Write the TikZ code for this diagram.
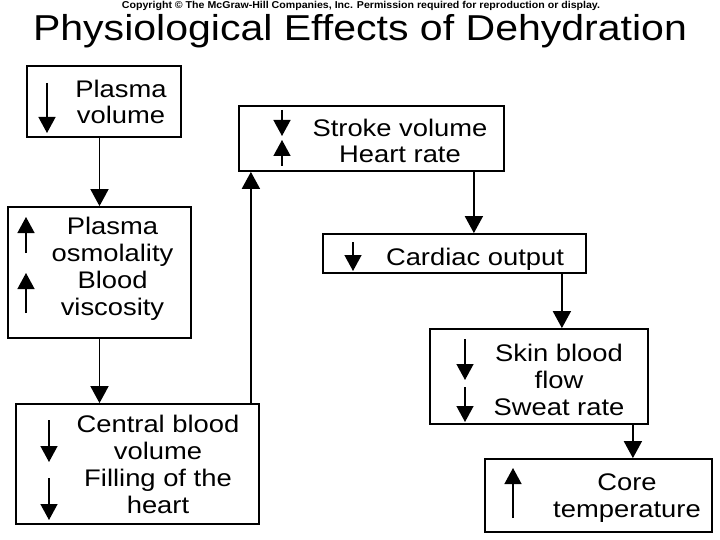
\documentclass[tikz,border=0pt]{standalone}
\usepackage{fontspec}
\setmainfont{Liberation Sans}[FakeStretch=1.14]
\newfontfamily\copyfont{Liberation Sans}[FakeStretch=1.06]
\usepackage{tikz}
\usetikzlibrary{arrows.meta}

\begin{document}
\begin{tikzpicture}[
    x=1pt, y=-1pt,
    box/.style n args={2}{draw, line width=1.8pt, minimum width=#1,
                minimum height=#2, inner sep=0pt},
    txt/.style={anchor=base, align=center, inner sep=0pt,
                font=\fontsize{24}{26.7}\selectfont},
    conn/.style={line width=1.8pt, -{Triangle[length=17pt, width=18pt]}},
    ind/.style={line width=1.4pt, -{Triangle[length=16pt, width=17pt]}},
]
\useasboundingbox (0,0) rectangle (720,540);

% ── Heading ──────────────────────────────────────────────────
\node[anchor=base, inner sep=0pt, font=\copyfont\bfseries\fontsize{10}{10}\selectfont] (copy) at (361,9)
    {Copyright © The McGraw-Hill Companies, Inc. Permission required for reproduction or display.};
\node[anchor=base, inner sep=0pt, font=\fontsize{36}{36}\selectfont] (title) at (360,41)
    {Physiological Effects of Dehydration};

% ── Left column (text placed on its last baseline) ───────────
\node[box={154pt}{71pt}] (pv) at (104,101.5) {};
\node[txt] (pvT) at (121,124) {Plasma\\volume};
\draw[ind] (47,83) -- (47,133);

\node[box={183pt}{131pt}] (po) at (99.5,272.5) {};
\node[txt] (poT) at (112.5,315) {Plasma\\osmolality\\Blood\\viscosity};
\draw[ind] (26,253) -- (26,217);
\draw[ind] (26,313) -- (26,273);

\node[box={243pt}{120pt}] (cb) at (137.5,464) {};
\node[txt] (cbT) at (158,513) {Central blood\\volume\\Filling of the\\heart};
\draw[ind] (49,420) -- (49,462);
\draw[ind] (49,478) -- (49,520);

\draw[conn] (po.north |- pv.south) -- (po.north);
\draw[conn] (po.south) -- (po.south |- cb.north);

% ── Right cascade ────────────────────────────────────────────
\node[box={265pt}{65pt}] (sv) at (371.5,138.5) {};
\node[txt] (svT) at (400,163) {Stroke volume\\Heart rate};
\draw[ind] (282,110) -- (282,136);
\draw[ind] (282,166) -- (282,140);

\node[box={263pt}{39pt}] (co) at (454.5,253.5) {};
\node[txt] (coT) at (475,265) {Cardiac output};
\draw[ind] (353,242) -- (353,271);

\node[box={218pt}{95pt}] (sk) at (539,376.5) {};
\node[txt] (skT) at (559,415) {Skin blood\\flow\\Sweat rate};
\draw[ind] (465,339) -- (465,380);
\draw[ind] (465,387) -- (465,422);

\node[box={227pt}{73pt}] (ct) at (598.5,495.5) {};
\node[txt] (ctT) at (627,517) {Core\\temperature};
\draw[ind] (513,518) -- (513,468);

\coordinate (cbout) at ([xshift=-9pt]cb.north east);
\coordinate (svout) at ([xshift=-31pt]sv.south east);
\coordinate (coout) at ([xshift=-25pt]co.south east);
\coordinate (skout) at ([xshift=-16pt]sk.south east);

\draw[conn] (cbout) -- (cbout |- sv.south);
\draw[conn] (svout) -- (svout |- co.north);
\draw[conn] (coout) -- (coout |- sk.north);
\draw[conn] (skout) -- (skout |- ct.north);

\end{tikzpicture}
\end{document}
